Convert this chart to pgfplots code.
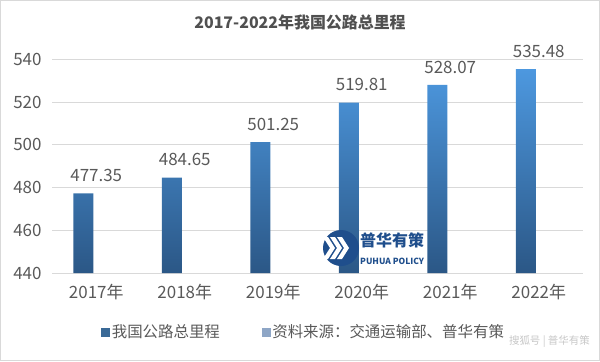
\documentclass[border=0pt]{standalone}
\usepackage{fontspec}
\setmainfont{Noto Sans CJK SC}
\usepackage{pgfplots}
\pgfplotsset{compat=1.18}
\definecolor{bartop}{HTML}{4D98DF}
\definecolor{barbot}{HTML}{2B5786}
\definecolor{txt}{HTML}{595959}
\definecolor{gridc}{HTML}{D9D9D9}
\definecolor{legone}{HTML}{3A6996}
\definecolor{legtwo}{HTML}{8EA6C6}
\definecolor{logoc}{HTML}{1F4E8C}
\begin{document}
\begin{tikzpicture}[x=1bp,y=1bp]
\path[use as bounding box] (0,0) rectangle (600,361);
\draw[color=gridc, line width=1bp] (0.5,0.5) rectangle (599.5,360.5);
\node[font=\bfseries\fontsize{16}{16}\selectfont, text=txt!90!black] at (300,339) {2017-2022年我国公路总里程};
\begin{axis}[
  at={(52bp,88bp)}, anchor=south west, scale only axis,
  width=531bp, height=213.5bp,
  xmin=-0.5, xmax=5.5, ymin=440, ymax=540,
  ytick={440,460,480,500,520,540},
  xtick={0,1,2,3,4,5},
  xticklabels={2017年,2018年,2019年,2020年,2021年,2022年},
  axis lines*=left,
  y axis line style={draw=none},
  x axis line style={draw=gridc, line width=1bp},
  ymajorgrids, major grid style={draw=gridc, line width=1bp},
  tick style={draw=none},
  /pgf/number format/assume math mode=true,
  yticklabel style={font=\fontsize{17}{17}\selectfont, text=txt, xshift=-7bp},
  xticklabel style={font=\fontsize{17}{17}\selectfont, text=txt, yshift=-8bp},
  clip=false,
  legend style={at={(0.474,-0.276)}, anchor=center, draw=none, fill=none,
    font=\fontsize{15.5}{15.5}\selectfont, text=txt, legend columns=2,
    /tikz/every even column/.append style={column sep=40bp},
    legend cell align=left, inner sep=0pt},
]
\addplot[ybar, bar width=20bp, bar shift=-13bp, draw=none,
  top color=bartop, bottom color=barbot, forget plot,
  point meta=explicit symbolic,
  nodes near coords,
  every node near coord/.append style={font=\fontsize{17}{17}\selectfont, text=txt, anchor=center, yshift=18bp}]
  coordinates {(0,477.35) [477.35] (1,484.65) [484.65] (2,501.25) [501.25]
               (3,519.81) [519.81] (4,528.07) [528.07] (5,535.48) [535.48]};
\addlegendimage{legend image code/.code={\fill[legone] (0bp,-4bp) rectangle (8bp,4bp);}}
\addlegendentry{我国公路总里程}
\addlegendimage{legend image code/.code={\fill[legtwo] (0bp,-4bp) rectangle (8bp,4bp);}}
\addlegendentry{资料来源：交通运输部、普华有策}
\end{axis}
% watermark logo
\fill[logoc] (341,113) circle (18);
\foreach \dx in {-8,-1,6} {
  \fill[white] (331+\dx,124) -- (336+\dx,124) -- (343+\dx,113) -- (336+\dx,102) -- (331+\dx,102) -- (338+\dx,113) -- cycle;
}
\node[anchor=west, font=\bfseries\fontsize{16}{16}\selectfont, text=logoc, inner sep=0] at (360,121) {普华有策};
\node[anchor=west, font=\bfseries\fontsize{8.5}{8.5}\selectfont, text=logoc, inner sep=0] at (360,100) {PUHUA POLICY};
\node[anchor=east, font=\fontsize{10.5}{10.5}\selectfont, text=black!22, inner sep=0] at (590,19) {搜狐号 | 普华有策};
\end{tikzpicture}
\end{document}
